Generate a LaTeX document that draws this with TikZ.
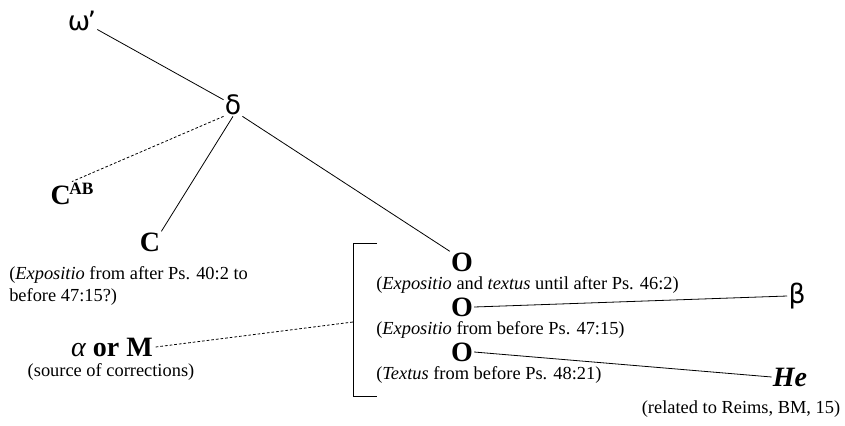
\documentclass[tikz,border=0pt]{standalone}
\usepackage{fontspec}
\setmainfont{Liberation Serif}
\newfontfamily\greekfont{DejaVu Sans}
\usetikzlibrary{positioning}

\begin{document}
\begin{tikzpicture}[x=0.75pt,y=0.75pt,yscale=-1,xscale=1,
  siglum/.style={font=\fontsize{21}{24}\selectfont\bfseries, inner sep=0.75pt},
  greek/.style={font=\fontsize{20}{24}\selectfont\greekfont, inner sep=0.75pt},
  note/.style={font=\fontsize{13.8}{16.5}\selectfont, inner sep=0.75pt, align=left},
  link/.style={line width=0.6pt},
  corr/.style={line width=0.6pt, dash pattern=on 2pt off 1.5pt}]
\useasboundingbox (0,0) rectangle (845,425);

% Text Node
\draw (82,21) node [greek] (omega) {ω\kern-0.1em’};
% Text Node
\draw (233,105) node [greek] (delta) {δ};
% Text Node
\draw (72,194) node [siglum] (cab) {C\kern-0.05em\raisebox{0.38em}{\fontsize{13}{13}\selectfont AB}};
% Text Node
\draw (150,242) node [siglum] (c) {C};
\draw (8,265) node [note, anchor=north west] (cnote) {(\textit{Expositio} from after Ps. 40:2 to\\before 47:15?)};

% Text Node
\draw (462,262) node [siglum] (oa) {O};
\draw (375,275) node [note, anchor=north west] (oanote) {(\textit{Expositio} and \textit{textus} until after Ps. 46:2)};
% Text Node
\draw (462,307) node [siglum] (ob) {O};
\draw (375,320) node [note, anchor=north west] (obnote) {(\textit{Expositio} from before Ps. 47:15)};
% Text Node
\draw (462,352) node [siglum] (oc) {O};
\draw (375,365) node [note, anchor=north west] (ocnote) {(\textit{Textus} from before Ps. 48:21)};

% Text Node
\draw (797,296) node [greek] (beta) {β};
% Text Node
\draw (790,377) node [siglum] (he) {\textit{He}};
\draw (741,409) node [note] (henote) {(related to Reims, BM, 15)};

% Text Node
\draw (112,347) node [siglum, inner sep=0pt] (alpham) {{\mdseries\itshape α} or M};
\draw (111,372) node [note, inner sep=0pt] (alphanote) {(source of corrections)};

%Bracket round the three O
\draw [link] (377,243) -- (353,243) -- (353,396) -- (377,396);
\coordinate (brk) at (353,322);

%Straight Lines
\draw [link] (omega) -- (delta);
\draw [corr] (delta.south west) -- (cab.north);
\draw [link] (delta.south) -- (c.north east);
\draw [link] (delta.south east) -- (oa.north west);
\draw [link] (ob.east) -- (beta.west);
\draw [link] (oc.east) -- (he.west);
\draw [corr] ([xshift=2pt]alpham.east) -- (brk);

\end{tikzpicture}
\end{document}
